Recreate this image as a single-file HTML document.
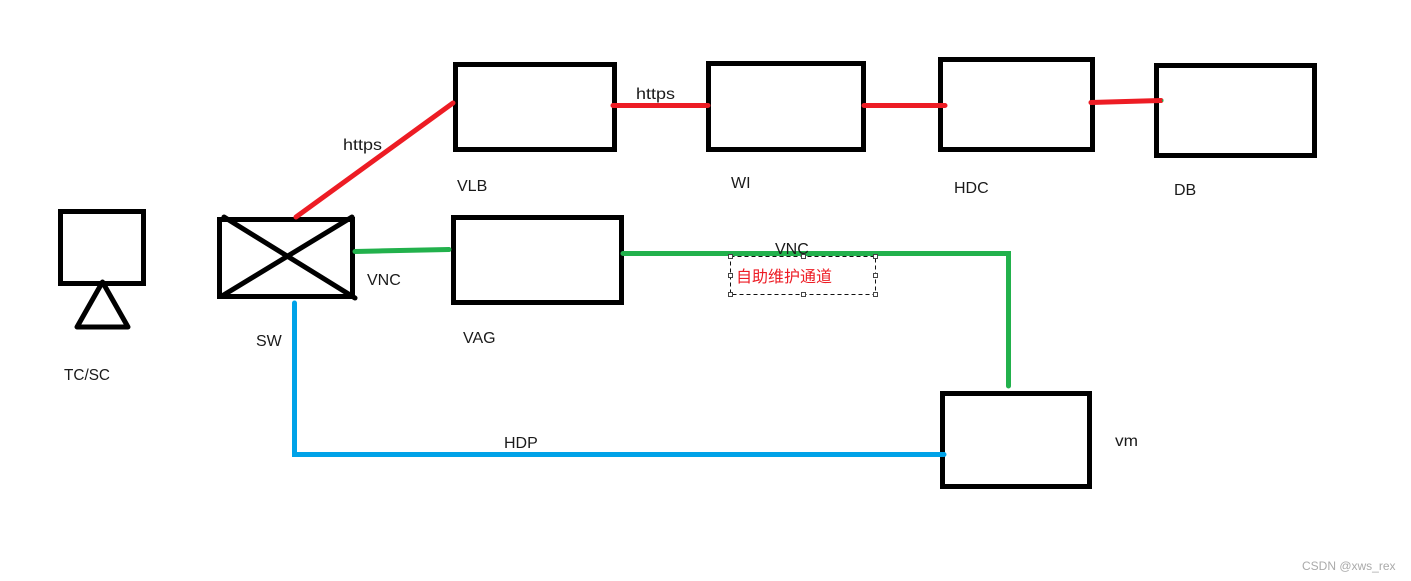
<!DOCTYPE html>
<html><head><meta charset="utf-8"><style>
html,body{margin:0;padding:0;background:#fff}
svg{display:block}
text{font-family:"Liberation Sans","Noto Sans CJK SC",sans-serif;font-size:16px;fill:#1a1a1a}
</style></head><body>
<svg width="1411" height="581" viewBox="0 0 1411 581" xmlns="http://www.w3.org/2000/svg">
<rect width="1411" height="581" fill="#fff"/>
<g fill="none" stroke="#000" stroke-width="5">
<rect x="60.5" y="211.5" width="83" height="72"/>
<rect x="219.5" y="219.5" width="133" height="77"/>
<rect x="455.5" y="64.5" width="159" height="85"/>
<rect x="708.5" y="63.5" width="155" height="86"/>
<rect x="940.5" y="59.5" width="152" height="90"/>
<rect x="1156.5" y="65.5" width="158" height="90"/>
<rect x="453.5" y="217.5" width="168" height="85"/>
<rect x="942.5" y="393.5" width="147" height="93"/>
<path d="M102.5 282L77 327H128Z" stroke-linejoin="round"/>
<path d="M224 217L355 298M222 296L352 217" stroke-linecap="round"/>
</g>
<g fill="none" stroke-width="5" stroke-linecap="round">
<path d="M296 217L453 103M613 105.5H708M864 105.5H945M1091 102.5L1108 102L1143 101L1161 100.5" stroke="#ed1c24"/>
<path d="M355 251.5L378 251L449 249.5M623 253.5H1008.5V386" stroke="#22b14c"/>
<path d="M294.5 303V454.5H944" stroke="#00a2e8"/>
</g>
<rect x="1162" y="99.5" width="1.5" height="2" fill="#22b14c"/>
<rect x="730.5" y="256.5" width="145" height="38" fill="none" stroke="#111" stroke-width="1" stroke-dasharray="4 3"/>
<g fill="#fff" stroke="#444" stroke-width="1">
<rect x="728.5" y="254.5" width="4" height="4"/><rect x="801.5" y="254.5" width="4" height="4"/><rect x="873.5" y="254.5" width="4" height="4"/>
<rect x="728.5" y="273.5" width="4" height="4"/><rect x="873.5" y="273.5" width="4" height="4"/>
<rect x="728.5" y="292.5" width="4" height="4"/><rect x="801.5" y="292.5" width="4" height="4"/><rect x="873.5" y="292.5" width="4" height="4"/>
</g>
<text x="343" y="150" textLength="39" lengthAdjust="spacingAndGlyphs">https</text>
<text x="636" y="99" textLength="39" lengthAdjust="spacingAndGlyphs">https</text>
<text x="457" y="191">VLB</text>
<text x="731" y="188">WI</text>
<text x="954" y="193">HDC</text>
<text x="1174" y="195">DB</text>
<text x="367" y="285">VNC</text>
<text x="775" y="254">VNC</text>
<text x="463" y="343">VAG</text>
<text x="256" y="346">SW</text>
<text x="64" y="380" textLength="46" lengthAdjust="spacingAndGlyphs">TC/SC</text>
<text x="504" y="448">HDP</text>
<text x="1115" y="446" textLength="23" lengthAdjust="spacingAndGlyphs">vm</text>
<text x="736" y="282" style="fill:#ed1c24;font-size:16px">自助维护通道</text>
<text x="1302" y="570" style="fill:#aaa;font-size:12px">CSDN @xws_rex</text>
</svg>
</body></html>
